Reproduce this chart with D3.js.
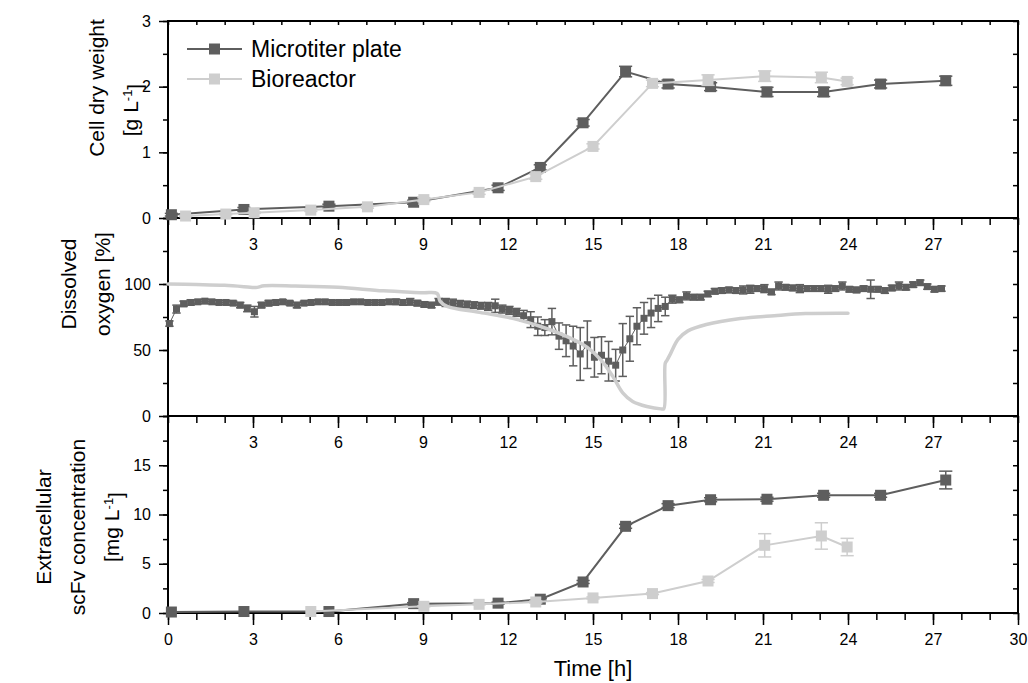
<!DOCTYPE html>
<html lang="en">
    <head>
        <meta charset="utf-8">
        <title>Microtiter plate vs Bioreactor</title>
        <script src="https://cdn.jsdelivr.net/npm/d3@7/dist/d3.min.js"></script>
        <style type="text/css">
            body { margin: 0; background: #fff; }
            text { font-family: "Liberation Sans", Arial, sans-serif; fill: #000; }
            .axis text { font-size: 16px; }
            .axis path { display: none; }
            .axis line { stroke: #000; stroke-width: 1.5px; }
        </style>
    </head>
    <body>
        <script type="text/javascript">

            // --- cell dry weight [g/L] ---
            var cdwMtpT = [0.12, 2.68, 5.68, 8.67, 11.65, 13.14, 14.65, 16.15, 17.65, 19.15, 21.14, 23.14, 25.15, 27.45];
            var cdwMtpV = [0.05, 0.13, 0.18, 0.24, 0.46, 0.77, 1.45, 2.23, 2.04, 2.0, 1.92, 1.92, 2.04, 2.09];
            var cdwMtpE = [0.02, 0.03, 0.03, 0.03, 0.04, 0.04, 0.05, 0.08, 0.06, 0.06, 0.07, 0.07, 0.06, 0.07];
            var cdwBioT = [0.62, 2.04, 3.04, 5.04, 7.04, 9.03, 10.98, 12.98, 15.0, 17.1, 19.06, 21.06, 23.06, 23.97];
            var cdwBioV = [0.03, 0.06, 0.08, 0.12, 0.17, 0.28, 0.39, 0.63, 1.09, 2.05, 2.1, 2.16, 2.14, 2.08];
            var cdwBioE = [0.01, 0.01, 0.01, 0.02, 0.02, 0.03, 0.03, 0.04, 0.04, 0.05, 0.08, 0.08, 0.08, 0.05];

            // --- dissolved oxygen [%], microtiter plate: [time, value, sd] ---
            var doMtp = [
                [0.05,70,2],[0.3,81,3],[0.55,85,2],[0.8,86,2],[1.05,86.5,1.5],[1.3,87,1.5],[1.55,86.5,1.5],[1.8,86,1.5],
                [2.05,86,1.5],[2.3,85.5,1.5],[2.55,84,2],[2.8,81.5,2.5],[3.05,79,4],[3.3,84,2],[3.55,85.5,2],[3.8,86,1.5],
                [4.05,86.5,1.5],[4.3,85.5,1.5],[4.55,84,2],[4.8,85.5,1.5],[5.05,86,1.5],[5.3,86.5,1.5],[5.55,86.5,1.5],[5.8,86,1.5],
                [6.05,86,1.5],[6.3,86,1.5],[6.55,86.5,1.5],[6.8,86.5,1.5],[7.05,86,1.5],[7.3,86,1.5],[7.55,86,1.5],[7.8,86.5,1.5],
                [8.05,86.5,2],[8.3,86,2],[8.55,86.5,2.5],[8.8,85.5,2],[9.05,84.5,2],[9.3,84,2],[9.55,86.5,2.5],[9.8,86,3],
                [10.05,85.5,3],[10.3,85,2.5],[10.55,84.5,2.5],[10.8,84,2.5],[11.05,83.5,2.5],[11.3,83,3],[11.55,83.5,5],[11.8,81,3],
                [12.05,80,3],[12.3,78.5,3],[12.55,76,4],[12.8,73,6],[13.05,68,7],[13.3,67,6],[13.55,71.5,10],[13.8,60.5,10],
                [14.05,57,12],[14.3,53,15],[14.55,47,20],[14.8,54,18],[15.05,44.5,15],[15.3,46,14],[15.55,41.5,15],[15.8,38.5,12],
                [16.05,50,20],[16.3,58.5,17],[16.55,68,14],[16.8,74,12],[17.05,78,11],[17.3,81.5,10],[17.55,83,7],[17.8,88.5,3],
                [18.05,88,2],[18.3,91,3],[18.55,90,2],[18.8,90,2],[19.05,92.5,2],[19.3,94.5,2],[19.55,95,2],[19.8,95.5,2],
                [20.05,95,2],[20.3,95.5,3],[20.55,96,3],[20.8,96.5,2],[21.05,96.5,3],[21.3,94,2],[21.55,98.5,3],[21.8,97.5,2],
                [22.05,97,2],[22.3,96.5,3],[22.55,96.5,2],[22.8,96.5,2],[23.05,96.5,2],[23.3,96,3],[23.55,96.5,2],[23.8,98.5,3],
                [24.05,96,2],[24.3,95.5,2],[24.55,96.5,2],[24.8,96,7],[25.05,96,2],[25.3,95,2],[25.55,97,2],[25.8,98.5,3],
                [26.05,97.5,2],[26.3,99.5,2],[26.55,101,2],[26.8,98,2],[27.05,96,2],[27.3,96.5,2]
            ];

            // --- dissolved oxygen [%], bioreactor online signal: [time, value] ---
            var doBio = [
                [0,100],[1,99.6],[2,99],[2.9,97.6],[3.1,97.3],[3.4,98.6],[4.5,98.4],[6,97.6],[7.6,94.8],[9,93.4],[9.5,92.8],
                [9.6,87],[9.85,83],[11,78.5],[12.2,73.8],[13.1,68.2],[14.05,60.5],[14.8,52],[15.3,42],[15.7,30],[16.05,17.5],
                [16.4,11],[16.9,7.2],[17.4,5.4],[17.5,5.5],[17.55,40],[17.62,42.5],[17.75,47.8],[18,58],[18.35,64.5],[19,69.3],
                [20.2,73.8],[21.4,76],[22.5,77.6],[24,77.9]
            ];

            // --- extracellular scFv [mg/L] ---
            var scfvMtpT = [0.12, 2.68, 5.68, 8.67, 11.65, 13.14, 14.65, 16.15, 17.65, 19.15, 21.14, 23.14, 25.15, 27.45];
            var scfvMtpV = [0.1, 0.15, 0.15, 0.95, 1.0, 1.4, 3.15, 8.8, 10.9, 11.5, 11.55, 11.95, 11.95, 13.5];
            var scfvMtpE = [0, 0, 0, 0.1, 0.1, 0.1, 0.15, 0.2, 0.2, 0.2, 0.2, 0.2, 0.2, 0.9];
            var scfvBioT = [5.04, 9.03, 10.98, 12.98, 15.0, 17.1, 19.06, 21.06, 23.06, 23.97];
            var scfvBioV = [0.15, 0.68, 0.88, 1.12, 1.53, 1.97, 3.25, 6.87, 7.82, 6.7];
            var scfvBioE = [0, 0.05, 0.05, 0.1, 0.1, 0.1, 0.15, 1.18, 1.34, 0.88];

            var xMajor = [0, 3, 6, 9, 12, 15, 18, 21, 24, 27, 30];
            var xInner = [3, 6, 9, 12, 15, 18, 21, 24, 27];
            var xMinor = d3.range(0, 31, 1);

            var seriesNames = ["Microtiter plate", "Bioreactor"];
            var dark = "#5e5e5e", light = "#cecece";

            var w = 1028, h = 683;
            var left = 168, right = 1018;

            var svg = d3.select("body").append("svg")
                .attr("width", w)
                .attr("height", h);

            var xScale = d3.scaleLinear().domain([0, 30]).range([left, right]);

            var panels = [
                { top: 21, bottom: 218, domain: [0, 3], major: [0, 1, 2, 3], minor: d3.range(0, 3.01, 0.5) },
                { top: 218, bottom: 416, domain: [0, 150], major: [0, 50, 100], minor: d3.range(0, 151, 25) },
                { top: 416, bottom: 613, domain: [0, 20], major: [0, 5, 10, 15], minor: d3.range(0, 20.01, 2.5) }
            ];
            panels.forEach(function(p) {
                p.y = d3.scaleLinear().domain(p.domain).range([p.bottom, p.top]);
            });

            function toPts(t, v, e) {
                return t.map(function(d, i) { return { t: d, v: v[i], e: e ? e[i] : 0 }; });
            }

            // axes of each panel
            panels.forEach(function(p, k) {
                // left, outward
                svg.append("g").attr("class", "axis")
                    .attr("transform", "translate(" + left + ",0)")
                    .call(d3.axisLeft(p.y).tickValues(p.minor).tickSize(5).tickFormat(""));
                svg.append("g").attr("class", "axis")
                    .attr("transform", "translate(" + left + ",0)")
                    .call(d3.axisLeft(p.y).tickValues(p.major).tickSize(9).tickPadding(8).tickFormat(d3.format("d")));
                // right, inward
                svg.append("g").attr("class", "axis")
                    .attr("transform", "translate(" + right + ",0)")
                    .call(d3.axisRight(p.y).tickValues(p.minor).tickSize(-5).tickFormat(""));
                // bottom, outward (labels sit in the next panel)
                svg.append("g").attr("class", "axis")
                    .attr("transform", "translate(0," + p.bottom + ")")
                    .call(d3.axisBottom(xScale).tickValues(xMinor).tickSize(7).tickFormat(""));
                svg.append("g").attr("class", "axis")
                    .attr("transform", "translate(0," + p.bottom + ")")
                    .call(d3.axisBottom(xScale).tickValues(k == 2 ? xMajor : xInner).tickSize(12).tickPadding(9).tickFormat(d3.format("d")));
            });
            // top border ticks, inward
            svg.append("g").attr("class", "axis")
                .attr("transform", "translate(0," + panels[0].top + ")")
                .call(d3.axisTop(xScale).tickValues(xMinor).tickSize(-4).tickFormat(""));

            // frames
            panels.forEach(function(p) {
                svg.append("rect")
                    .attr("x", left).attr("y", p.top)
                    .attr("width", right - left).attr("height", p.bottom - p.top)
                    .attr("fill", "none").attr("stroke", "#000").attr("stroke-width", 2);
            });

            function drawSeries(p, pts, color, size, lineW) {
                var g = svg.append("g");
                g.append("path")
                    .datum(pts)
                    .attr("fill", "none")
                    .attr("stroke", color)
                    .attr("stroke-width", lineW)
                    .attr("d", d3.line().x(function(d) { return xScale(d.t); }).y(function(d) { return p.y(d.v); }));
                var eb = g.selectAll(".eb").data(pts.filter(function(d) { return d.e > 0; })).enter().append("g")
                    .attr("stroke", color).attr("stroke-width", 1.5);
                eb.append("line")
                    .attr("x1", function(d) { return xScale(d.t); })
                    .attr("x2", function(d) { return xScale(d.t); })
                    .attr("y1", function(d) { return p.y(d.v - d.e); })
                    .attr("y2", function(d) { return p.y(d.v + d.e); });
                [-1, 1].forEach(function(s) {
                    eb.append("line")
                        .attr("x1", function(d) { return xScale(d.t) - size * 0.6; })
                        .attr("x2", function(d) { return xScale(d.t) + size * 0.6; })
                        .attr("y1", function(d) { return p.y(d.v + s * d.e); })
                        .attr("y2", function(d) { return p.y(d.v + s * d.e); });
                });
                g.selectAll("rect").data(pts).enter().append("rect")
                    .attr("x", function(d) { return xScale(d.t) - size / 2; })
                    .attr("y", function(d) { return p.y(d.v) - size / 2; })
                    .attr("width", size).attr("height", size)
                    .attr("fill", color);
            }

            // top panel
            drawSeries(panels[0], toPts(cdwMtpT, cdwMtpV, cdwMtpE), dark, 11, 2);
            drawSeries(panels[0], toPts(cdwBioT, cdwBioV, cdwBioE), light, 11, 2);

            // middle panel
            drawSeries(panels[1], doMtp.map(function(d) { return { t: d[0], v: d[1], e: d[2] }; }), dark, 7, 1);
            svg.append("path")
                .datum(doBio)
                .attr("fill", "none")
                .attr("stroke", light)
                .attr("stroke-width", 3.5)
                .attr("stroke-linejoin", "round")
                .attr("stroke-linecap", "round")
                .attr("d", d3.line().curve(d3.curveCatmullRom)
                    .x(function(d) { return xScale(d[0]); })
                    .y(function(d) { return panels[1].y(d[1]); }));

            // bottom panel
            drawSeries(panels[2], toPts(scfvMtpT, scfvMtpV, scfvMtpE), dark, 11, 2);
            drawSeries(panels[2], toPts(scfvBioT, scfvBioV, scfvBioE), light, 11, 2);

            // legend
            var legend = svg.append("g").attr("transform", "translate(187,49)");
            [dark, light].forEach(function(c, i) {
                var row = legend.append("g").attr("transform", "translate(0," + i * 30 + ")");
                row.append("line").attr("x1", 0).attr("x2", 55).attr("stroke", c).attr("stroke-width", 2);
                row.append("rect").attr("x", 22).attr("y", -5.5).attr("width", 11).attr("height", 11).attr("fill", c);
                row.append("text").attr("x", 64).attr("y", 8).style("font-size", "23px").text(seriesNames[i]);
            });

            // axis titles
            function yTitle(x, y, parts) {
                var t = svg.append("text")
                    .attr("transform", "translate(" + x + "," + y + ") rotate(-90)")
                    .attr("text-anchor", "middle")
                    .style("font-size", "21px");
                parts.forEach(function(s) {
                    var ts = t.append("tspan").text(s[0]);
                    if (s[1]) ts.attr("dy", "-0.5em").style("font-size", "13px");
                    if (s[2]) ts.attr("dy", "0.5em");
                });
            }
            yTitle(104, 88, [["Cell dry weight"]]);
            yTitle(138, 110, [["[g L"], ["-1", true], ["]", false, true]]);
            yTitle(76, 284, [["Dissolved"]]);
            yTitle(110, 284, [["oxygen [%]"]]);
            yTitle(51, 527, [["Extracellular"]]);
            yTitle(85, 527, [["scFv concentration"]]);
            yTitle(119, 527, [["[mg L"], ["-1", true], ["]", false, true]]);

            svg.append("text")
                .attr("x", xScale(15))
                .attr("y", 676)
                .attr("text-anchor", "middle")
                .style("font-size", "22px")
                .text("Time [h]");

        </script>
    </body>
</html>
